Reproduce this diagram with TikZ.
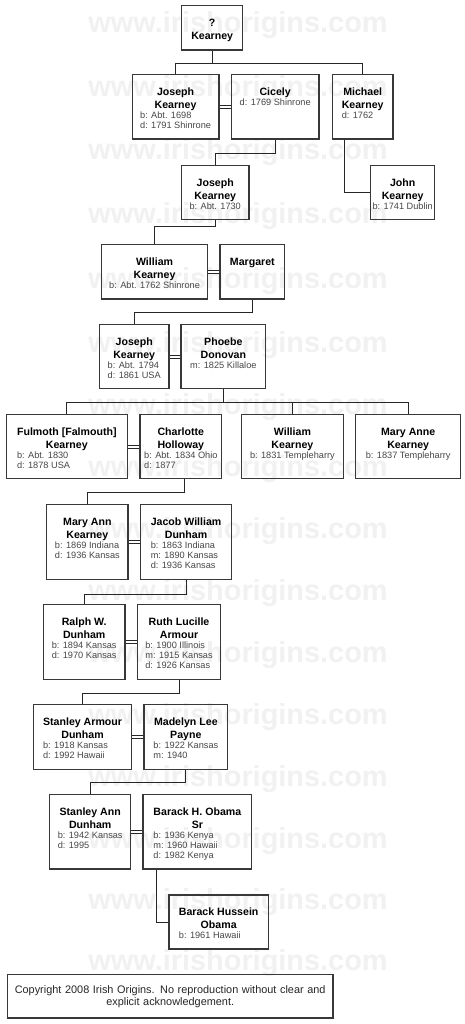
\documentclass[tikz,border=0pt]{standalone}
\usepackage{fontspec}
\setmainfont{Liberation Sans}
\usetikzlibrary{positioning,calc}
\definecolor{boxgray}{rgb}{0.22,0.22,0.22}
\definecolor{detgray}{rgb}{0.28,0.28,0.28}
\definecolor{markgray}{rgb}{0.945,0.945,0.945}

\newcommand{\namefont}{\fontsize{10.6}{12.7}\selectfont\bfseries\color{black}}
\newcommand{\detfont}{\fontsize{9.2}{10}\selectfont\color{detgray}}
% one name line, centred over the dates
\newcommand{\nm}[1]{\multicolumn{1}{@{}c@{}}{\namefont\rule[-3.3pt]{0pt}{12.7pt}#1}}
% card: width, height, lines
\newcommand{\card}[3]{\parbox[c][#2][t]{#1}{\centering\vspace*{11.4pt}\detfont\begin{tabular}[t]{@{}l@{}}#3\end{tabular}\par}}

\begin{document}
\begin{tikzpicture}[
      x=1pt, y=-1pt,
      pbox/.style={rectangle, draw=boxgray, line width=1.4pt, inner sep=0pt, anchor=north west},
      cbox/.style={rectangle, draw=boxgray, line width=1.4pt, inner sep=0pt, anchor=north west, text width=325.6pt, minimum height=43.3pt, align=center, font=\fontsize{10.9}{11.7}\selectfont\color{black!85}},
      wmark/.style={anchor=base, text=markgray, font=\fontsize{28.9}{30}\selectfont\bfseries},
      link/.style={line width=1pt, color=black!85},
      marr/.style={double, double distance=2.2pt, line width=0.8pt, color=black!85}
    ]
      \fill[white] (0,0) rectangle (464,1024);
      \useasboundingbox (0,0) rectangle (464,1024);

      % watermark rows
      \foreach \wy [count=\k] in {33,97,160,224,288,352,414,476,538,600,662,724,786,848,909,970}
        \node[wmark] (wm\k) at (238,\wy) {www.irishorigins.com};

      \node[pbox] (q) at (181,5) {\card{61pt}{44.3pt}{\nm{?}\\ \nm{Kearney}}};

      \node[pbox] (jk1) at (131.5,74) {\card{86.8pt}{64.5pt}{\nm{Joseph}\\ \nm{Kearney}\\ b: Abt. 1698\\ d: 1791 Shinrone}};
      \node[pbox] (cic) at (230.7,74) {\card{87.6pt}{64.5pt}{\nm{Cicely}\\ d: 1769 Shinrone}};
      \node[pbox] (mk) at (331.7,74) {\card{60.6pt}{64.5pt}{\nm{Michael}\\ \nm{Kearney}\\ d: 1762}};

      \node[pbox] (jk2) at (180.7,165) {\card{67.6pt}{54pt}{\nm{Joseph}\\ \nm{Kearney}\\ b: Abt. 1730}};
      \node[pbox] (jn) at (370,165) {\card{64pt}{54pt}{\nm{John}\\ \nm{Kearney}\\ b: 1741 Dublin}};

      \node[pbox] (wk) at (101,244) {\card{105.7pt}{54.3pt}{\nm{William}\\ \nm{Kearney}\\ b: Abt. 1762 Shinrone}};
      \node[pbox] (mar) at (219.3,244) {\card{64.7pt}{54.3pt}{\nm{Margaret}}};

      \node[pbox] (jk3) at (98.7,324) {\card{69.6pt}{64pt}{\nm{Joseph}\\ \nm{Kearney}\\ b: Abt. 1794\\ d: 1861 USA}};
      \node[pbox] (pd) at (180.3,324) {\card{84.7pt}{64pt}{\nm{Phoebe}\\ \nm{Donovan}\\ m: 1825 Killaloe}};

      \node[pbox] (fk) at (5.5,414) {\card{121.2pt}{64pt}{\nm{Fulmoth [Falmouth]}\\ \nm{Kearney}\\ b: Abt. 1830\\ d: 1878 USA}};
      \node[pbox] (ch) at (139.3,414) {\card{81.7pt}{64pt}{\nm{Charlotte}\\ \nm{Holloway}\\ b: Abt. 1834 Ohio\\ d: 1877}};
      \node[pbox] (wk2) at (240.7,414) {\card{102pt}{64pt}{\nm{William}\\ \nm{Kearney}\\ b: 1831 Templeharry}};
      \node[pbox] (mak) at (355,414) {\card{105pt}{64pt}{\nm{Mary Anne}\\ \nm{Kearney}\\ b: 1837 Templeharry}};

      \node[pbox] (mank) at (46,504) {\card{81.3pt}{75pt}{\nm{Mary Ann}\\ \nm{Kearney}\\ b: 1869 Indiana\\ d: 1936 Kansas}};
      \node[pbox] (jwd) at (140,504) {\card{90.7pt}{75pt}{\nm{Jacob William}\\ \nm{Dunham}\\ b: 1863 Indiana\\ m: 1890 Kansas\\ d: 1936 Kansas}};

      \node[pbox] (rwd) at (42.7,604) {\card{81.6pt}{75pt}{\nm{Ralph W.}\\ \nm{Dunham}\\ b: 1894 Kansas\\ d: 1970 Kansas}};
      \node[pbox] (rla) at (136.7,604) {\card{83.3pt}{75pt}{\nm{Ruth Lucille}\\ \nm{Armour}\\ b: 1900 Illinois\\ m: 1915 Kansas\\ d: 1926 Kansas}};

      \node[pbox] (sad) at (32.7,704) {\card{98.3pt}{65pt}{\nm{Stanley Armour}\\ \nm{Dunham}\\ b: 1918 Kansas\\ d: 1992 Hawaii}};
      \node[pbox] (mlp) at (143.3,704) {\card{83.7pt}{65pt}{\nm{Madelyn Lee}\\ \nm{Payne}\\ b: 1922 Kansas\\ m: 1940}};

      \node[pbox] (san) at (49,794) {\card{81pt}{74.3pt}{\nm{Stanley Ann}\\ \nm{Dunham}\\ b: 1942 Kansas\\ d: 1995}};
      \node[pbox] (bos) at (142.3,794) {\card{108.7pt}{74.3pt}{\nm{Barack H. Obama}\\ \nm{Sr}\\ b: 1936 Kenya\\ m: 1960 Hawaii\\ d: 1982 Kenya}};

      \node[pbox] (bho) at (168.3,894.3) {\card{99.4pt}{54pt}{\nm{Barack Hussein}\\ \nm{Obama}\\ b: 1961 Hawaii}};

      \node[cbox] (cpy) at (6.7,974) {Copyright 2008 Irish Origins. No reproduction without clear and\\ explicit acknowledgement.};

      % couples
      \draw[marr] (jk1.east) -- (cic.west);
      \draw[marr] (wk.east) -- (mar.west);
      \draw[marr] (jk3.east) -- (pd.west);
      \draw[marr] (fk.east) -- (ch.west);
      \draw[marr] (mank.east) -- (jwd.west);
      \draw[marr] (rwd.east) -- (rla.west);
      \draw[marr] (sad.east) -- (mlp.west);
      \draw[marr] (san.east) -- (bos.west);

      % descent
      \draw[link] (q.south) -- ++(0,13) coordinate (bus1) -| (jk1.north);
      \draw[link] (bus1) -| (mk.north);
      \draw[link] (cic.south) -- ++(0,13.2) -| (jk2.north);
      \draw[link] ([xshift=12.6pt]mk.south west) |- (jn.west);
      \draw[link] (jk2.south) -- ++(0,6) -| (wk.north);
      \draw[link] (mar.south) -- ++(0,12.7) -| (jk3.north);
      \draw[link] (pd.south) -- ++(0,13) coordinate (bus2) -| (fk.north);
      \draw[link] (bus2) -| (wk2.north);
      \draw[link] (bus2) -| (mak.north);
      \draw[link] ([xshift=3.8pt]ch.south) -- ++(0,13) -| (mank.north);
      \draw[link] (jwd.south) -- ++(0,13.7) -| (rwd.north);
      \draw[link] (rla.south) -- ++(0,12.7) -| (sad.north);
      \draw[link] (mlp.south) -- ++(0,11.7) -| (san.north);
      \draw[link] ([xshift=13.7pt]bos.south west) |- (bho.west);
    \end{tikzpicture}
\end{document}
